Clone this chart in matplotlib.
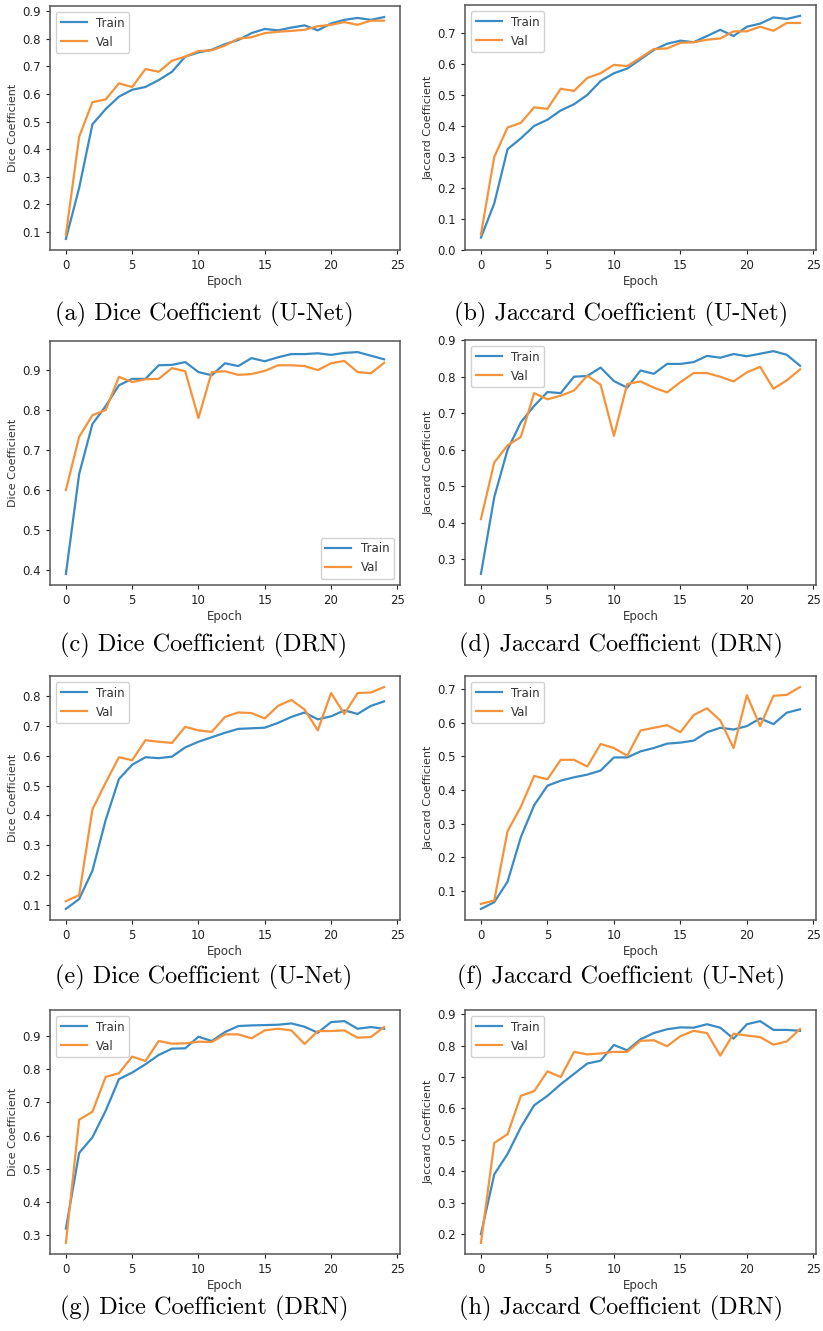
import matplotlib
matplotlib.use("Agg")
import matplotlib.pyplot as plt
import numpy as np

epochs = list(range(25))

a_train = [0.075, 0.26, 0.49, 0.545, 0.59, 0.615, 0.625, 0.65, 0.68, 0.735, 0.75, 0.76, 0.78, 0.795, 0.82, 0.835, 0.83, 0.84, 0.848, 0.83, 0.855, 0.868, 0.875, 0.868, 0.878]
a_val = [0.09, 0.445, 0.57, 0.58, 0.638, 0.625, 0.69, 0.68, 0.72, 0.735, 0.755, 0.758, 0.775, 0.80, 0.805, 0.82, 0.825, 0.828, 0.832, 0.845, 0.85, 0.86, 0.85, 0.865, 0.865]

b_train = [0.04, 0.15, 0.325, 0.36, 0.40, 0.42, 0.45, 0.47, 0.50, 0.545, 0.57, 0.585, 0.615, 0.645, 0.665, 0.675, 0.67, 0.69, 0.71, 0.69, 0.72, 0.73, 0.75, 0.745, 0.755]
b_val = [0.05, 0.30, 0.395, 0.41, 0.46, 0.455, 0.52, 0.513, 0.555, 0.57, 0.597, 0.593, 0.62, 0.648, 0.65, 0.668, 0.67, 0.678, 0.682, 0.705, 0.705, 0.72, 0.707, 0.732, 0.732]

c_train = [0.39, 0.64, 0.765, 0.81, 0.862, 0.878, 0.878, 0.912, 0.913, 0.92, 0.895, 0.887, 0.917, 0.91, 0.93, 0.922, 0.932, 0.94, 0.94, 0.942, 0.938, 0.943, 0.945, 0.936, 0.927]
c_val = [0.60, 0.733, 0.787, 0.80, 0.883, 0.87, 0.877, 0.878, 0.905, 0.897, 0.78, 0.895, 0.897, 0.888, 0.89, 0.898, 0.912, 0.912, 0.91, 0.90, 0.917, 0.923, 0.895, 0.892, 0.918]

d_train = [0.26, 0.47, 0.60, 0.675, 0.72, 0.758, 0.755, 0.80, 0.802, 0.825, 0.788, 0.77, 0.817, 0.808, 0.835, 0.835, 0.84, 0.857, 0.852, 0.862, 0.856, 0.863, 0.87, 0.86, 0.83]
d_val = [0.41, 0.565, 0.612, 0.635, 0.755, 0.738, 0.748, 0.762, 0.803, 0.778, 0.638, 0.78, 0.787, 0.77, 0.757, 0.785, 0.81, 0.81, 0.80, 0.787, 0.812, 0.827, 0.767, 0.79, 0.82]

e_train = [0.087, 0.12, 0.215, 0.385, 0.522, 0.57, 0.595, 0.592, 0.597, 0.628, 0.647, 0.662, 0.677, 0.69, 0.692, 0.694, 0.71, 0.73, 0.745, 0.722, 0.732, 0.752, 0.74, 0.767, 0.782]
e_val = [0.113, 0.133, 0.42, 0.51, 0.595, 0.585, 0.652, 0.647, 0.643, 0.697, 0.685, 0.68, 0.73, 0.745, 0.743, 0.725, 0.767, 0.787, 0.755, 0.685, 0.81, 0.74, 0.81, 0.812, 0.83]

f_train = [0.047, 0.067, 0.128, 0.26, 0.355, 0.413, 0.428, 0.438, 0.446, 0.458, 0.497, 0.497, 0.515, 0.525, 0.538, 0.541, 0.547, 0.572, 0.585, 0.58, 0.59, 0.613, 0.596, 0.63, 0.64]
f_val = [0.062, 0.072, 0.278, 0.35, 0.442, 0.432, 0.49, 0.49, 0.47, 0.537, 0.525, 0.502, 0.577, 0.585, 0.593, 0.572, 0.623, 0.643, 0.607, 0.525, 0.682, 0.59, 0.68, 0.683, 0.706]

g_train = [0.32, 0.548, 0.595, 0.675, 0.77, 0.79, 0.815, 0.843, 0.862, 0.863, 0.898, 0.885, 0.912, 0.93, 0.932, 0.933, 0.934, 0.938, 0.928, 0.91, 0.942, 0.945, 0.922, 0.927, 0.922]
g_val = [0.277, 0.648, 0.672, 0.777, 0.788, 0.838, 0.825, 0.885, 0.877, 0.878, 0.883, 0.882, 0.905, 0.905, 0.893, 0.917, 0.922, 0.917, 0.876, 0.915, 0.915, 0.917, 0.895, 0.897, 0.927]

h_train = [0.20, 0.39, 0.455, 0.54, 0.61, 0.64, 0.677, 0.71, 0.743, 0.752, 0.802, 0.785, 0.82, 0.84, 0.852, 0.858, 0.857, 0.868, 0.857, 0.822, 0.868, 0.878, 0.85, 0.85, 0.847]
h_val = [0.172, 0.49, 0.518, 0.64, 0.655, 0.718, 0.70, 0.78, 0.772, 0.775, 0.78, 0.78, 0.815, 0.817, 0.798, 0.83, 0.847, 0.84, 0.768, 0.838, 0.832, 0.827, 0.803, 0.813, 0.853]

captions = ["(a) Dice Coefficient (U-Net)", "(b) Jaccard Coefficient (U-Net)",
            "(c) Dice Coefficient (DRN)", "(d) Jaccard Coefficient (DRN)",
            "(e) Dice Coefficient (U-Net)", "(f) Jaccard Coefficient (U-Net)",
            "(g) Dice Coefficient (DRN)", "(h) Jaccard Coefficient (DRN)"]
ylabels = ["Dice Coefficient", "Jaccard Coefficient"] * 4
series = [(a_train, a_val), (b_train, b_val), (c_train, c_val), (d_train, d_val),
          (e_train, e_val), (f_train, f_val), (g_train, g_val), (h_train, h_val)]
legend_locs = ["upper left", "upper left", "lower right", "upper left",
               "upper left", "upper left", "upper left", "upper left"]

W, H = 823, 1331
fig = plt.figure(figsize=(W / 100, H / 100), dpi=100)

# axes boxes in pixels (left, top, right, bottom)
boxes = [(50, 6, 400, 250), (465, 5, 816, 250),
         (50, 341, 400, 585), (465, 340, 816, 585),
         (50, 676, 400, 920), (465, 676, 816, 920),
         (50, 1010, 400, 1254), (465, 1010, 816, 1254)]
caption_y = [314, 314, 645, 645, 977, 977, 1308, 1308]
caption_x = [204, 621] * 4

for i, ((tr, va), box) in enumerate(zip(series, boxes)):
    l, t, r, b = box
    ax = fig.add_axes([l / W, 1 - b / H, (r - l) / W, (b - t) / H])
    ax.plot(epochs, tr, color="#3a8bc4", lw=1.6, label="Train")
    ax.plot(epochs, va, color="#f5923a", lw=1.6, label="Val")
    if i == 1:
        ax.set_ylim(0.0, 0.79)
    ax.set_xticks([0, 5, 10, 15, 20, 25])
    ax.tick_params(labelsize=8.5, colors="#222222", length=3)
    for s in ax.spines.values():
        s.set_color("#555555")
        s.set_linewidth(1.1)
    ax.set_xlabel("Epoch", fontsize=8.5, color="#333333", labelpad=2)
    ax.set_ylabel(ylabels[i], fontsize=8, color="#333333", labelpad=3)
    leg = ax.legend(loc=legend_locs[i], fontsize=8.5, handlelength=2.2, framealpha=0.9)
    for txt in leg.get_texts():
        txt.set_color("#333333")
    fig.text(caption_x[i] / W, 1 - caption_y[i] / H, captions[i], ha="center", va="center",
             fontsize=17.5, family="cmr10")

fig.savefig("out.png", dpi=100)
